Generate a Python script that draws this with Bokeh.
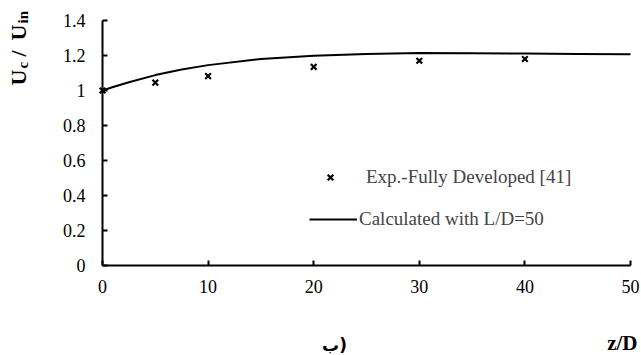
import math

from bokeh.embed import file_html
from bokeh.models import (ColumnDataSource, FixedTicker, Label, Legend,
                          LegendItem, LinearAxis, Range1d)
from bokeh.plotting import figure
from bokeh.resources import INLINE

# Centre-line velocity ratio along the pipe
exp_z = [0, 5, 10, 20, 30, 40]
exp_u = [1.0, 1.045, 1.082, 1.135, 1.17, 1.18]

calc_z = [0, 1, 2.5, 5, 7.5, 10, 15, 20, 25, 30, 35, 40, 45, 50]
calc_u = [1.0, 1.02, 1.047, 1.088, 1.12, 1.145, 1.18, 1.198, 1.209, 1.214,
          1.213, 1.211, 1.209, 1.207]

x_ticks = [0, 10, 20, 30, 40, 50]
x_tick_labels = ["0", "10", "20", "30", "40", "50"]
y_ticks = [0, 0.2, 0.4, 0.6, 0.8, 1, 1.2, 1.4]
y_tick_labels = ["0", "0.2", "0.4", "0.6", "0.8", "1", "1.2", "1.4"]

exp_label = "Exp.-Fully Developed [41]"
calc_label = "Calculated with L/D=50"

X_MIN, X_MAX = 0, 50
Y_MIN, Y_MAX = 0, 1.4

SERIF = "Liberation Serif"
W, H = 641, 355
# plotting box inside the canvas (pixels)
BOX_L, BOX_R, BOX_T, BOX_B = 102, 630, 20, 265


def dx(px):
    """Canvas pixel column -> data x."""
    return X_MIN + (px - BOX_L) / (BOX_R - BOX_L) * (X_MAX - X_MIN)


def dy(py):
    """Canvas pixel row -> data y."""
    return Y_MIN + (BOX_B - py) / (BOX_B - BOX_T) * (Y_MAX - Y_MIN)


# the frame spans the whole canvas; the axes sit at fixed data positions
p = figure(width=W, height=H, output_backend="svg", toolbar_location=None,
           x_range=Range1d(dx(0), dx(W)), y_range=Range1d(dy(H), dy(0)),
           x_axis_location=None, y_axis_location=None, min_border=0)
p.outline_line_color = None
p.xgrid.visible = False
p.ygrid.visible = False
p.background_fill_color = "white"
p.border_fill_color = "white"

xaxis = LinearAxis(fixed_location=Y_MIN, bounds=(X_MIN, X_MAX))
yaxis = LinearAxis(fixed_location=X_MIN, bounds=(Y_MIN, Y_MAX))
for ax, ticks, labels in ((xaxis, x_ticks, x_tick_labels),
                          (yaxis, y_ticks, y_tick_labels)):
    ax.ticker = FixedTicker(ticks=ticks)
    ax.major_label_overrides = dict(zip(ticks, labels))
    ax.minor_tick_line_color = None
    ax.major_tick_in = 5
    ax.major_tick_out = 0
    ax.axis_line_width = 2
    ax.major_tick_line_width = 2
    ax.axis_line_color = "black"
    ax.major_tick_line_color = "black"
    ax.major_label_text_font = SERIF
    ax.major_label_text_font_size = "18px"
    ax.major_label_text_color = "black"
xaxis.major_label_standoff = 14
yaxis.major_label_standoff = 17
p.add_layout(xaxis, "below")
p.add_layout(yaxis, "left")

src_calc = ColumnDataSource(dict(z=calc_z, u=calc_u))
src_exp = ColumnDataSource(dict(z=exp_z, u=exp_u))
r_line = p.line("z", "u", source=src_calc, line_color="black", line_width=2)
r_pts = p.scatter("z", "u", source=src_exp, marker="x", size=8,
                  line_color="black", line_width=2.2)

# two single-entry legends, placed separately
leg_common = dict(border_line_color=None, background_fill_alpha=0,
                  padding=0, margin=0, label_text_font=SERIF,
                  label_text_font_size="19px", label_height=20,
                  glyph_height=20)
leg1 = Legend(items=[LegendItem(label=exp_label, renderers=[r_pts])],
              location=(320, H - 188), glyph_width=20, label_standoff=26,
              **leg_common)
leg2 = Legend(items=[LegendItem(label=calc_label, renderers=[r_line])],
              location=(309, H - 230), glyph_width=48, label_standoff=2,
              **leg_common)
p.add_layout(leg1, "center")
p.add_layout(leg2, "center")

# vertical axis title: U_c / U_in, built from pieces (rotated, reading upward)
ylab = [
    ("U", 85, 17.5, "22px"),
    ("c", 68, 22.5, "15px"),
    ("/", 56, 17.5, "22px"),
    ("U", 40, 17.5, "22px"),
    ("in", 23, 22, "15px"),
]
for txt, py, px, fs in ylab:
    p.add_layout(Label(x=dx(px), y=dy(py), text=txt, angle=math.pi / 2,
                       text_font=SERIF, text_font_style="bold",
                       text_font_size=fs, text_color="black",
                       text_align="left", text_baseline="middle"))

p.add_layout(Label(x=dx(637), y=dy(342), text="z/D", text_font=SERIF,
                   text_font_style="bold", text_font_size="21px",
                   text_color="black", text_align="right",
                   text_baseline="middle"))
p.add_layout(Label(x=dx(334), y=dy(344), text="ب)", text_font="DejaVu Sans",
                   text_font_style="bold", text_font_size="17px",
                   text_color="black", text_align="center",
                   text_baseline="middle"))

open("out.html", "w").write(file_html(p, INLINE))
